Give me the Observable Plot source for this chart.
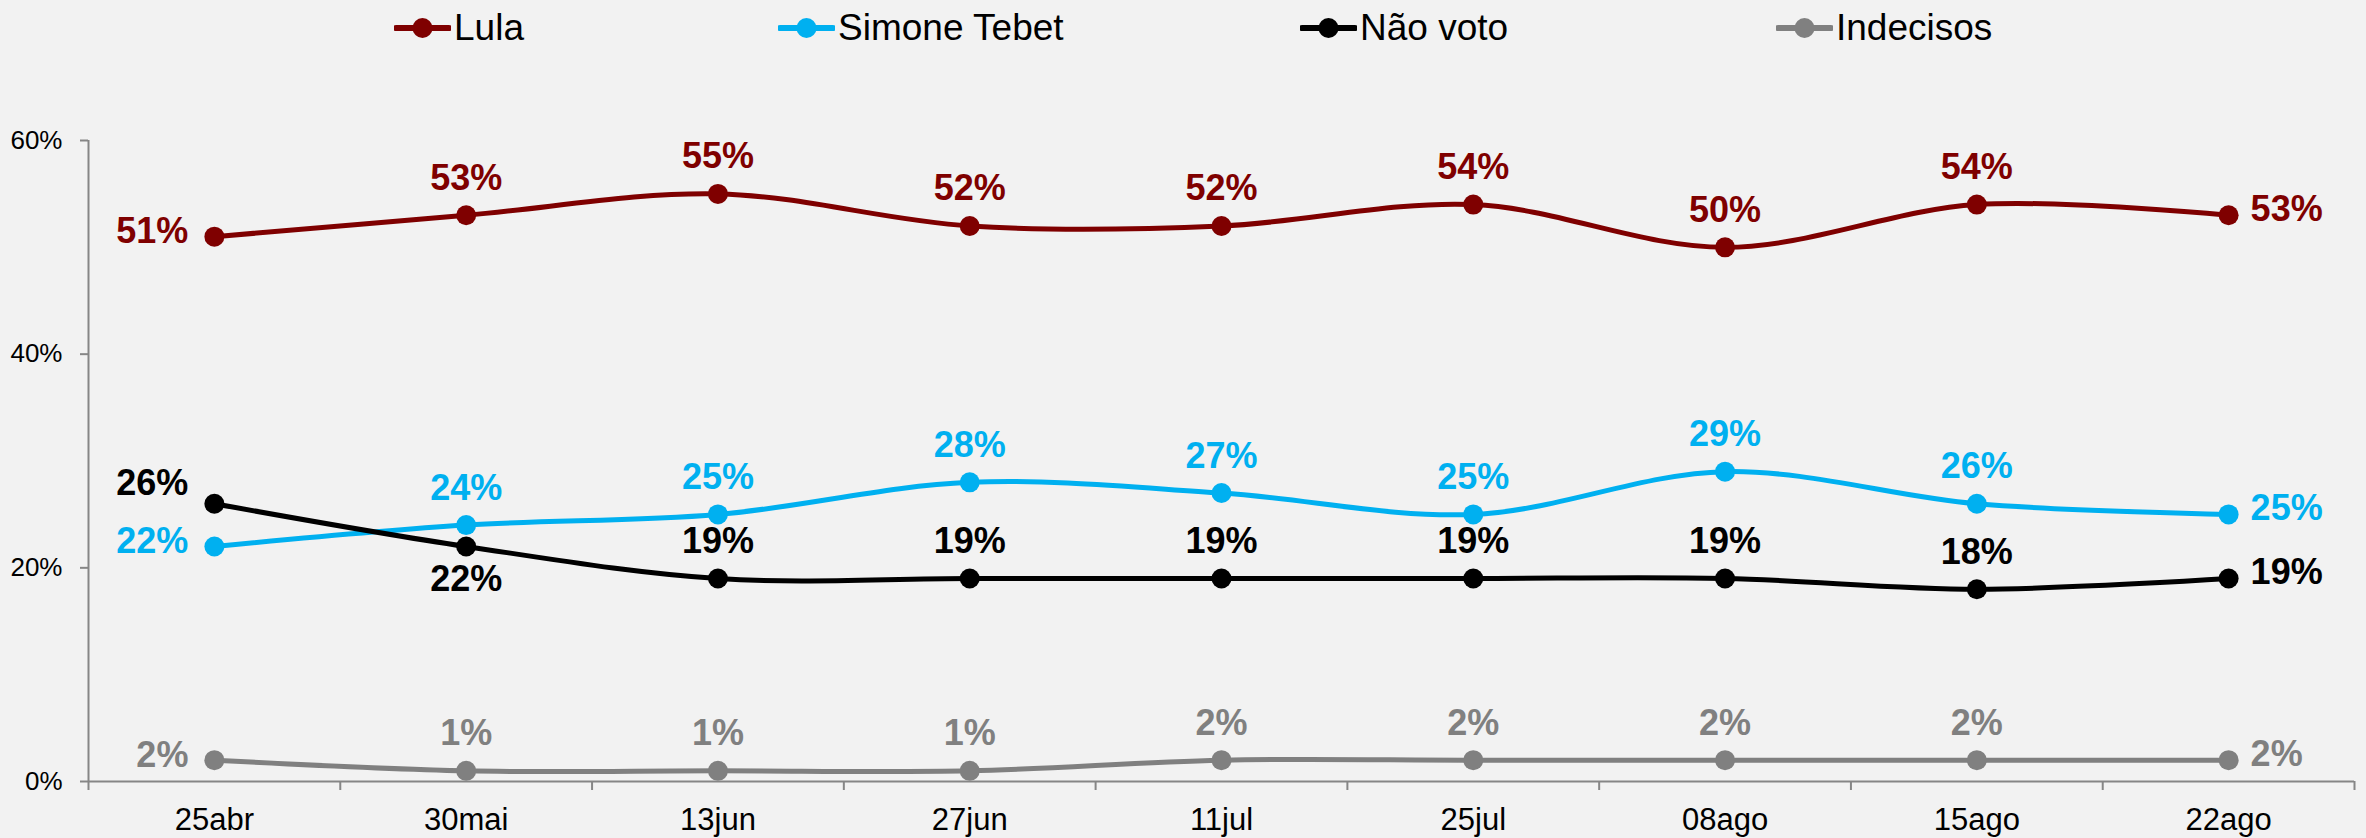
<!DOCTYPE html>
<html>
<head>
<meta charset="utf-8">
<script src="https://cdn.jsdelivr.net/npm/d3@7"></script>
<script src="https://cdn.jsdelivr.net/npm/@observablehq/plot@0.6"></script>
<style>
  html, body { margin: 0; padding: 0; background: #F2F2F2; }
  body { width: 2366px; height: 838px; overflow: hidden; font-family: "Liberation Sans", Arial, sans-serif; }
  #legend { position: relative; height: 56px; width: 2366px; }
  .item { position: absolute; top: 0; height: 56px; display: flex; align-items: center; font-size: 37px; color: #000; }
  .item svg { margin-right: 3px; }
  #chart svg { display: block; }
</style>
</head>
<body>
<div id="legend"></div>
<div id="chart"></div>
<script>
// ---- data ----
const dates = ["25abr", "30mai", "13jun", "27jun", "11jul", "25jul", "08ago", "15ago", "22ago"];
const seriesNames = ["Lula", "Simone Tebet", "Não voto", "Indecisos"];
const lula      = [51, 53, 55, 52, 52, 54, 50, 54, 53];
const tebet     = [22, 24, 25, 28, 27, 25, 29, 26, 25];
const naoVoto   = [26, 22, 19, 19, 19, 19, 19, 18, 19];
const indecisos = [ 2,  1,  1,  1,  2,  2,  2,  2,  2];
const yTicks = [0, 20, 40, 60];

// ---- styles ----
const colors = ["#7F0000", "#00B0F0", "#000000", "#808080"];
const legendLeft = [394, 778, 1300, 1776];
const seriesValues = [lula, tebet, naoVoto, indecisos];
const n = dates.length;

const rows = [];
seriesNames.forEach((s, k) => {
  seriesValues[k].forEach((v, i) => rows.push({series: s, k, i, date: dates[i], pos: i + 0.5, value: v}));
});

// label placement logic
function placement(d) {
  if (d.i === 0) {
    const close = seriesValues.some((arr, k) => k !== d.k && d.value > arr[d.i] && d.value - arr[d.i] < 5);
    return close ? "leftUp" : "left";
  }
  if (d.i === n - 1) return "right";
  if (d.series === "Não voto" && d.value < tebet[d.i] && tebet[d.i] - d.value < 4) return "below";
  return "above";
}
rows.forEach(d => d.place = placement(d));
const label = d => d.value + "%";

// ---- legend ----
const legend = document.getElementById("legend");
seriesNames.forEach((s, k) => {
  const it = document.createElement("div");
  it.className = "item";
  it.style.left = legendLeft[k] + "px";
  it.innerHTML = `<svg width="57" height="24"><line x1="2" y1="12" x2="55" y2="12" stroke="${colors[k]}" stroke-width="6" stroke-linecap="round"/><circle cx="28.5" cy="12" r="10" fill="${colors[k]}"/></svg><span>${s}</span>`;
  legend.appendChild(it);
});

// ---- chart ----
const textFont = {fontFamily: "'Liberation Sans', Arial, sans-serif", fontWeight: "bold", fontSize: 36};
const fill = "series";
const chart = Plot.plot({
  width: 2366,
  height: 782,
  marginLeft: 88,
  marginRight: 12,
  marginTop: 84,
  marginBottom: 57,
  style: {background: "#F2F2F2", fontFamily: "'Liberation Sans', Arial, sans-serif", overflow: "visible"},
  x: {type: "linear", domain: [0, n]},
  y: {domain: [0, 60]},
  color: {domain: seriesNames, range: colors},
  marks: [
    Plot.ruleX([0], {stroke: "#868686", strokeWidth: 2}),
    Plot.ruleY([0], {stroke: "#868686", strokeWidth: 2}),
    Plot.axisY({ticks: yTicks, tickFormat: d => d + "%", tickSize: 8, tickPadding: 18, fontSize: 26, stroke: "#868686", strokeWidth: 2, color: "#000", label: null}),
    Plot.axisX({ticks: d3.range(0, n + 1), tickSize: 9, tickFormat: () => "", stroke: "#868686", strokeWidth: 2, label: null}),
    Plot.axisX({ticks: dates.map((_, i) => i + 0.5), tickSize: 0, tickPadding: 26, tickFormat: v => dates[Math.round(v - 0.5)], fontSize: 31, color: "#000", label: null}),
    Plot.line(rows, {x: "pos", y: "value", z: "series", stroke: "series", strokeWidth: 5, curve: "catmull-rom"}),
    Plot.dot(rows, {x: "pos", y: "value", fill: "series", r: 10}),
    Plot.text(rows.filter(d => d.place === "above"), {x: "pos", y: "value", text: label, fill, dy: -37, ...textFont}),
    Plot.text(rows.filter(d => d.place === "below"), {x: "pos", y: "value", text: label, fill, dy: 33, ...textFont}),
    Plot.text(rows.filter(d => d.place === "left"), {x: "pos", y: "value", text: label, fill, dx: -26, dy: -5, textAnchor: "end", ...textFont}),
    Plot.text(rows.filter(d => d.place === "leftUp"), {x: "pos", y: "value", text: label, fill, dx: -26, dy: -20, textAnchor: "end", ...textFont}),
    Plot.text(rows.filter(d => d.place === "right"), {x: "pos", y: "value", text: label, fill, dx: 22, dy: -6, textAnchor: "start", ...textFont})
  ]
});
document.getElementById("chart").appendChild(chart);
</script>
</body>
</html>
